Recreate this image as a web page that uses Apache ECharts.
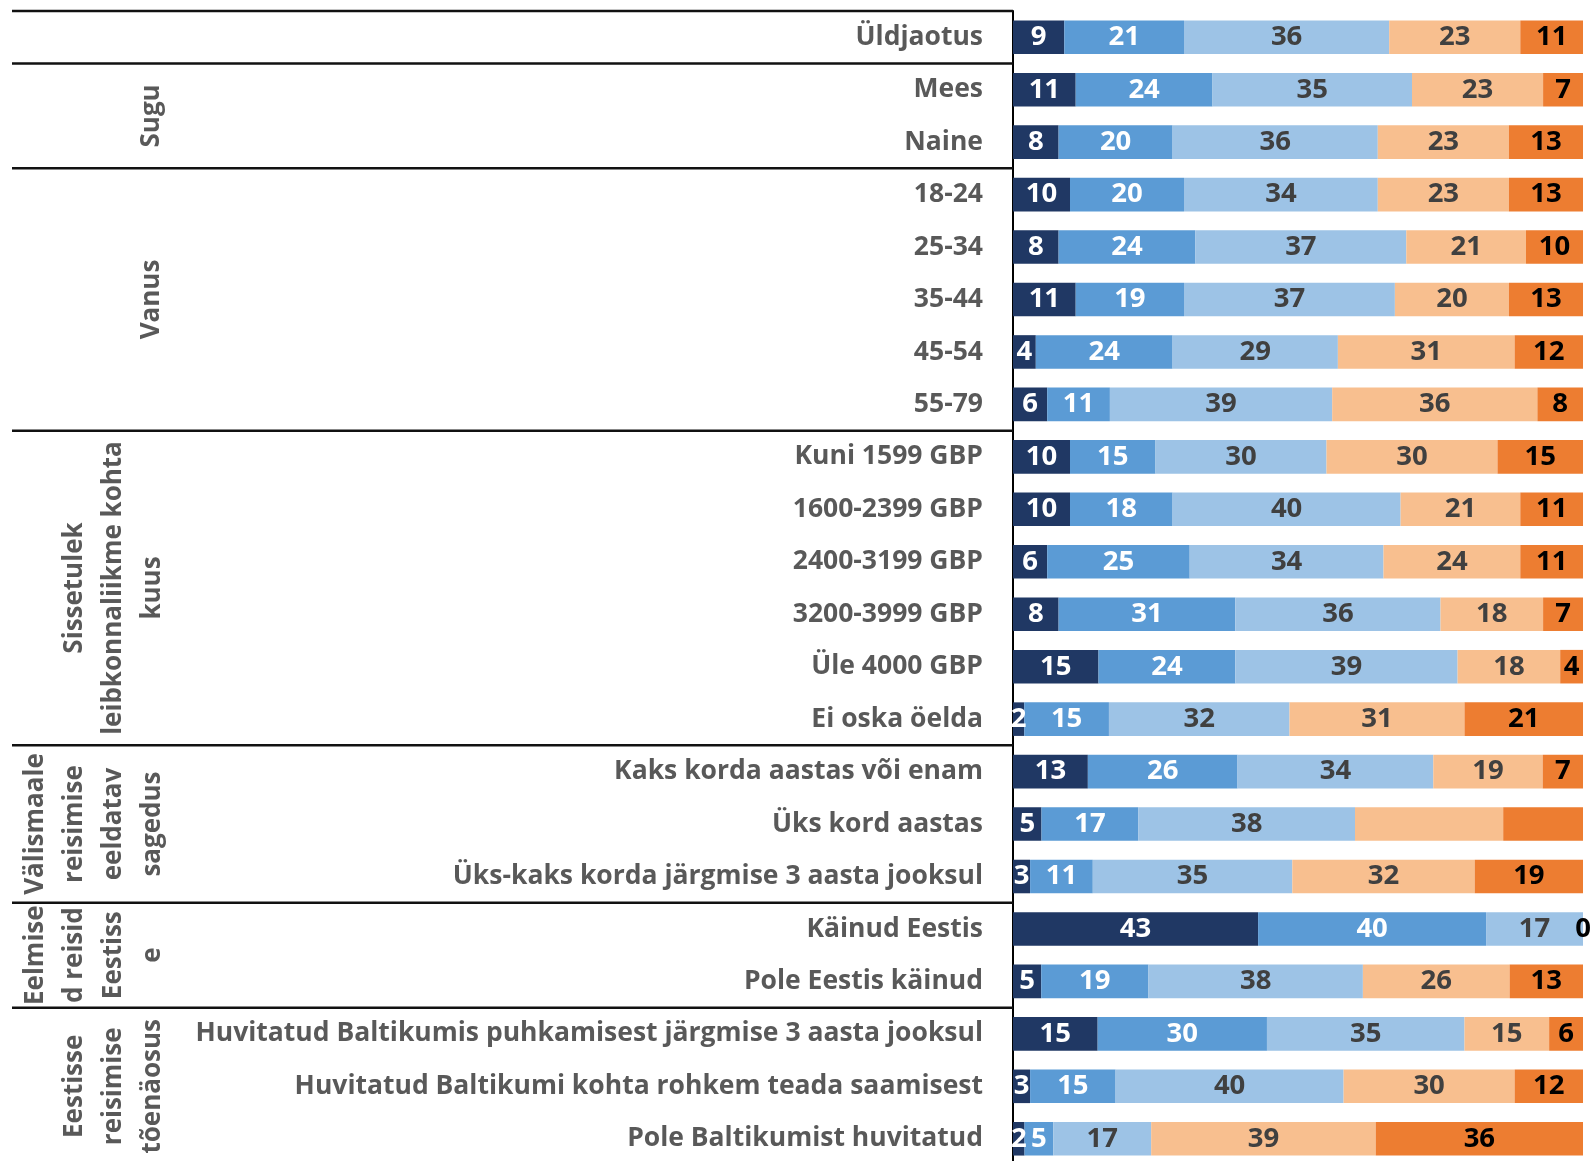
<!DOCTYPE html>
<html><head><meta charset="utf-8">
<script src="https://cdn.jsdelivr.net/npm/echarts@6/dist/echarts.min.js"></script>
<style>html,body{margin:0;padding:0;background:#fff}#c{width:1593px;height:1161px}</style>
</head><body><div id="c"></div>
<script>
const categories = ['Üldjaotus','Mees','Naine','18-24','25-34','35-44','45-54','55-79',
  'Kuni 1599 GBP','1600-2399 GBP','2400-3199 GBP','3200-3999 GBP','Üle 4000 GBP','Ei oska öelda',
  'Kaks korda aastas või enam','Üks kord aastas','Üks-kaks korda järgmise 3 aasta jooksul',
  'Käinud Eestis','Pole Eestis käinud',
  'Huvitatud Baltikumis puhkamisest järgmise 3 aasta jooksul','Huvitatud Baltikumi kohta rohkem teada saamisest','Pole Baltikumist huvitatud'];
const seg1 = [9,11,8,10,8,11,4,6,10,10,6,8,15,2,13,5,3,43,5,15,3,2];
const seg2 = [21,24,20,20,24,19,24,11,15,18,25,31,24,15,26,17,11,40,19,30,15,5];
const seg3 = [36,35,36,34,37,37,29,39,30,40,34,36,39,32,34,38,35,17,38,35,40,17];
const seg4 = [23,23,23,23,21,20,31,36,30,21,24,18,18,31,19,26,32,0,26,15,30,39];
const seg5 = [11,7,13,13,10,13,12,8,15,11,11,7,4,21,7,14,19,0,13,6,12,36];
const hiddenLabels = [[15,3],[15,4],[17,3]];
const groupNames = ['', 'Sugu', 'Vanus', 'Sissetulek\nleibkonnaliikme kohta\nkuus', 'Välismaale\nreisimise\neeldatav\nsagedus', 'Eelmise\nd reisid\nEestiss\ne', 'Eestisse\nreisimise\ntõenäosus'];
const groupStart = [0,1,3,8,14,17,19];
const groupEnd = [1,3,8,14,17,19,22];

const FONT = '"Open Sans", "Noto Sans", sans-serif';
const colors = ['#203864','#5b9bd5','#9dc3e6','#f8bf8f','#ed7d31'];
const labelColors = ['#ffffff','#ffffff','#404040','#404040','#000000'];
const segs = [seg1, seg2, seg3, seg4, seg5];
const rowSum = categories.map((c,i)=>segs.reduce((a,s)=>a+s[i],0));
const isHidden = (r,k)=>hiddenLabels.some(h=>h[0]===r&&h[1]===k);

const chart = echarts.init(document.getElementById('c'));
chart.setOption({
  animation:false,
  grid:[
    {left:12, top:11, width:1001, height:1154, outerBoundsMode:'none', containLabel:false},
    {left:1013, right:10, top:11, height:1154, outerBoundsMode:'none', containLabel:false}
  ],
  xAxis:[
    {gridIndex:0, type:'value', min:0, max:1, show:false},
    {gridIndex:1, type:'value', min:0, max:100, show:false}
  ],
  yAxis:[
    {gridIndex:0, type:'value', min:0, max:22, inverse:true, show:false},
    {gridIndex:1, type:'category', data:categories, inverse:true,
     axisLine:{show:true, lineStyle:{color:'#000', width:2}},
     axisTick:{show:false},
     axisLabel:{color:'#595959', fontFamily:FONT, fontWeight:'bold', fontSize:26.5, margin:30}}
  ],
  series:[
    ...segs.map((arr,k)=>({
      type:'bar', xAxisIndex:1, yAxisIndex:1, stack:'t', barWidth:'64%',
      itemStyle:{color:colors[k]},
      emphasis:{disabled:true},
      label:{show:true, position:'inside', color:labelColors[k], fontFamily:FONT, fontWeight:'bold', fontSize:27.5,
        formatter:p=>isHidden(p.dataIndex,k)?'':String(arr[p.dataIndex])},
      data:arr.map((v,i)=>v/rowSum[i]*100)
    })),
    {
      type:'custom', xAxisIndex:0, yAxisIndex:0, silent:true, clip:false,
      data:groupNames.map((n,i)=>[groupStart[i], groupEnd[i], i]),
      renderItem:(params, api)=>{
        const s = api.value(0), e = api.value(1), i = api.value(2);
        const p0 = api.coord([0, s]), p1 = api.coord([1, s]);
        const mid = api.coord([0, (s+e)/2]);
        const name = groupNames[i];
        const n = name ? name.split('\n').length : 1;
        const cx = p0[0] + 140 - (n-1)*19.4;
        return {type:'group', children:[
          {type:'line', shape:{x1:p0[0], y1:p0[1], x2:p1[0], y2:p1[1]}, style:{stroke:'#111', lineWidth:2.5}},
          {type:'text', x:cx, y:mid[1], rotation:Math.PI/2,
           style:{text:name, align:'center', verticalAlign:'middle', fontFamily:FONT, fontWeight:'bold', fontSize:26, lineHeight:39, fill:'#595959'}}
        ]};
      }
    }
  ]
});
</script></body></html>
